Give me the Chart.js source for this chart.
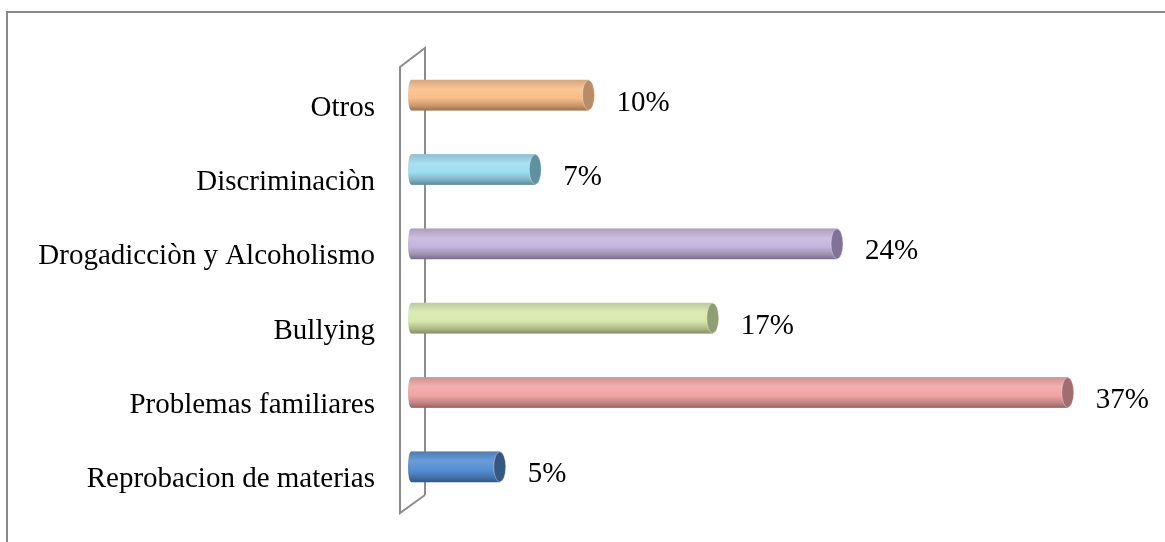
<!DOCTYPE html>
<html>
<head>
<meta charset="utf-8">
<script src="https://cdn.jsdelivr.net/npm/chart.js@4.4.0/dist/chart.umd.min.js"></script>
<style>
  html, body { margin: 0; padding: 0; background: #fff; }
  #wrap { width: 1165px; height: 542px; position: relative; }
</style>
</head>
<body>
<div id="wrap"><canvas id="chart1" width="1165" height="542"></canvas></div>
<script>
// datos del gráfico (de arriba hacia abajo)
const categorias = ['Otros', 'Discriminaciòn', 'Drogadicciòn y Alcoholismo', 'Bullying', 'Problemas familiares', 'Reprobacion de materias'];
const porcentajes = [10, 7, 24, 17, 37, 5];
const colores = ['#F9BE88', '#9DDDF0', '#C4B5DC', '#D8E8AC', '#F0A4A4', '#568FD3'];
const coloresTapa = ['#B88C66', '#5F919E', '#7F7497', '#8F9E74', '#A06E6E', '#36577F'];

const FUENTE = '"Liberation Serif", "Times New Roman", serif';
const GROSOR = 30;

function mezclar(hex, f) {
    // f < 1 oscurece, f > 1 aclara
    const n = parseInt(hex.slice(1), 16);
    let r = (n >> 16) & 255, g = (n >> 8) & 255, b = n & 255;
    if (f <= 1) { r *= f; g *= f; b *= f; }
    else { const t = f - 1; r += (255 - r) * t; g += (255 - g) * t; b += (255 - b) * t; }
    return `rgb(${Math.round(r)},${Math.round(g)},${Math.round(b)})`;
}

// gradiente vertical para dar aspecto de cilindro
function gradiente(c, i, yc) {
    const base = colores[i];
    const g = c.createLinearGradient(0, yc - GROSOR / 2, 0, yc + GROSOR / 2);
    g.addColorStop(0, mezclar(base, 0.88));
    g.addColorStop(0.3, mezclar(base, 1.12));
    g.addColorStop(0.6, base);
    g.addColorStop(0.85, mezclar(base, 0.8));
    g.addColorStop(1, mezclar(base, 0.62));
    return g;
}

function relleno(ctx) {
    const i = ctx.dataIndex;
    const y = ctx.chart.scales.y;
    if (i === undefined) return colores[0];
    const yc = y ? y.getPixelForValue(i) : NaN;
    if (!isFinite(yc)) return colores[i];
    return gradiente(ctx.chart.ctx, i, yc);
}

// marco exterior y pared 3D del eje
const fondo = {
    id: 'fondo',
    beforeDraw(chart) {
        const c = chart.ctx;
        c.save();
        c.strokeStyle = '#8a8a8a';
        c.lineWidth = 2;
        c.beginPath();
        c.moveTo(7, chart.height + 5);
        c.lineTo(7, 12);
        c.lineTo(chart.width + 5, 12);
        c.stroke();
        c.restore();
    },
    beforeDatasetsDraw(chart) {
        const a = chart.chartArea;
        const c = chart.ctx;
        const xf = a.left - 11, xb = a.left + 14;
        c.save();
        c.strokeStyle = '#8c8c8c';
        c.lineWidth = 2;
        c.beginPath();
        c.moveTo(xb, a.bottom - 9);
        c.lineTo(xb, a.top - 10);
        c.lineTo(xf, a.top + 9);
        c.lineTo(xf, a.bottom + 9);
        c.lineTo(xb, a.bottom - 9);
        c.stroke();
        c.restore();
    }
};

// cuerpos, tapas de los cilindros y etiquetas de valor
const cilindros = {
    id: 'cilindros',
    afterDatasetsDraw(chart) {
        const c = chart.ctx;
        const meta = chart.getDatasetMeta(0);
        meta.data.forEach((bar, i) => {
            const h = bar.height;
            const rx = 6;
            c.save();
            const g = gradiente(c, i, bar.y);
            c.fillStyle = g;
            c.fillRect(bar.base, bar.y - h / 2, bar.x - bar.base, h);
            // extremo izquierdo redondeado
            c.beginPath();
            c.ellipse(bar.base, bar.y, 3, h / 2, 0, Math.PI / 2, Math.PI * 1.5);
            c.fill();
            // tapa derecha
            c.fillStyle = coloresTapa[i];
            c.beginPath();
            c.ellipse(bar.x, bar.y, rx, h / 2, 0, 0, Math.PI * 2);
            c.fill();
            c.strokeStyle = 'rgba(255,255,255,0.35)';
            c.lineWidth = 1;
            c.stroke();
            // etiqueta
            c.fillStyle = '#000';
            c.font = '29px ' + FUENTE;
            c.textAlign = 'left';
            c.textBaseline = 'middle';
            c.fillText(porcentajes[i] + '%', bar.x + rx + 22, bar.y + 8);
            c.restore();
        });
    }
};

function createChart(chartId) {
    const ctx = document.getElementById(chartId).getContext('2d');
    new Chart(ctx, {
        type: 'bar',
        data: {
            labels: categorias,
            datasets: [{
                data: porcentajes,
                backgroundColor: relleno,
                borderWidth: 0,
                barThickness: GROSOR
            }]
        },
        options: {
            indexAxis: 'y',
            responsive: false,
            animation: false,
            layout: { padding: { left: 0, right: 44, top: 58, bottom: 38 } },
            plugins: {
                legend: { display: false },
                tooltip: { enabled: false }
            },
            scales: {
                x: {
                    display: false,
                    min: 0,
                    max: 40
                },
                y: {
                    grid: { display: false },
                    border: { display: false },
                    afterFit: (s) => {
                        s.width = 411;
                        s.paddingTop = 0;
                        s.paddingBottom = 0;
                    },
                    ticks: {
                        color: '#000',
                        padding: 28,
                        labelOffset: 13,
                        font: { family: FUENTE, size: 29 }
                    }
                }
            }
        },
        plugins: [fondo, cilindros]
    });
}

window.onload = function () {
    createChart('chart1');
};
</script>
</body>
</html>
